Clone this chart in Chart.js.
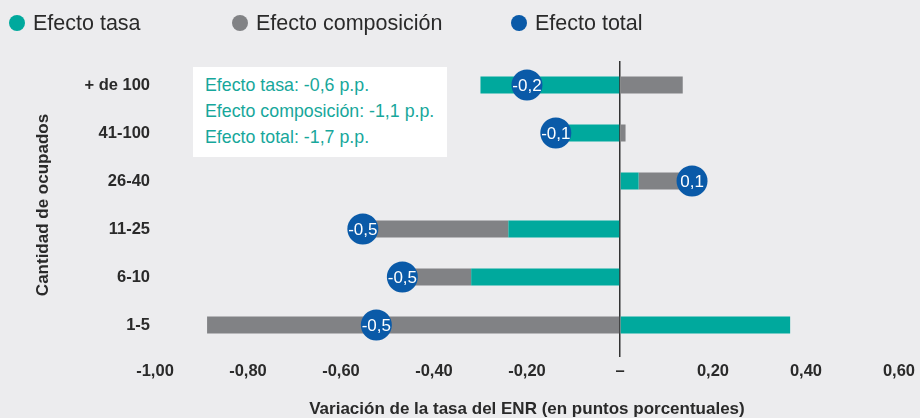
<!DOCTYPE html>
<html>
<head>
<meta charset="utf-8">
<script src="https://cdn.jsdelivr.net/npm/chart.js@4.4.1/dist/chart.umd.min.js"></script>
<style>
  body { margin: 0; background: #ececee; font-family: "Liberation Sans", Arial, sans-serif; }
  #wrap { position: relative; width: 920px; height: 418px; overflow: hidden; }
  #grafico { position: absolute; left: 0; top: 0; }
  .leyenda-item { position: absolute; top: 11px; height: 24px; display: flex; align-items: center; font-size: 21.5px; color: #2a2a2a; white-space: nowrap; }
  .leyenda-item span.dot { width: 16px; height: 16px; border-radius: 50%; margin-right: 8px; }
  #nota { position: absolute; left: 193px; top: 67px; width: 254px; height: 90px; background: #fff;
          box-sizing: border-box; padding: 5px 0 0 12px; color: #17a79b; font-size: 17.8px; line-height: 26px; white-space: nowrap; }
</style>
</head>
<body>
<div id="wrap">
  <canvas id="grafico" width="920" height="418"></canvas>
  <div id="leyenda"></div>
  <div id="nota"></div>
</div>
<script>
const categorias = ['+ de 100', '41-100', '26-40', '11-25', '6-10', '1-5'];
const efectoTasa = [-0.30, -0.11, 0.04, -0.24, -0.32, 0.366];
const efectoComposicion = [0.135, 0.012, 0.10, -0.31, -0.145, -0.888];
const efectoTotal = [-0.20, -0.138, 0.155, -0.553, -0.468, -0.524];
const etiquetasTotal = ['-0,2', '-0,1', '0,1', '-0,5', '-0,5', '-0,5'];
const ticksX = ['-1,00', '-0,80', '-0,60', '-0,40', '-0,20', '–', '0,20', '0,40', '0,60'];
const notaLineas = ['Efecto tasa: -0,6 p.p.', 'Efecto composición: -1,1 p.p.', 'Efecto total: -1,7 p.p.'];

const verde = '#00a99d';
const gris = '#818285';
const azul = '#0a5aa8';
const fuente = '"Liberation Sans", Arial, sans-serif';

// leyenda y recuadro en html
const leyenda = [
  { label: 'Efecto tasa', color: verde, left: 9 },
  { label: 'Efecto composición', color: gris, left: 232 },
  { label: 'Efecto total', color: azul, left: 511 }
];
const divLeyenda = document.getElementById('leyenda');
leyenda.forEach(item => {
  const el = document.createElement('div');
  el.className = 'leyenda-item';
  el.style.left = item.left + 'px';
  el.innerHTML = '<span class="dot" style="background:' + item.color + '"></span>' + item.label;
  divLeyenda.appendChild(el);
});
document.getElementById('nota').innerHTML = notaLineas.map(t => '<div>' + t + '</div>').join('');

// texto dentro de los circulos
const etiquetasPlugin = {
  id: 'etiquetasTotal',
  afterDatasetsDraw(chart) {
    const meta = chart.getDatasetMeta(0);
    const ctx = chart.ctx;
    ctx.save();
    ctx.fillStyle = '#fff';
    ctx.font = '17px ' + fuente;
    ctx.textAlign = 'center';
    ctx.textBaseline = 'middle';
    meta.data.forEach((pt, i) => ctx.fillText(etiquetasTotal[i], pt.x, pt.y + 1));
    ctx.restore();
  }
};

const fuenteEje = { family: fuente, size: 17, weight: 'bold', lineHeight: 1 };

const ctx = document.getElementById('grafico').getContext('2d');
new Chart(ctx, {
  type: 'bar',
  data: {
    labels: categorias,
    datasets: [
      {
        type: 'line',
        label: 'Efecto total',
        data: efectoTotal,
        indexAxis: 'y',
        stack: 'total',
        showLine: false,
        pointRadius: 15.5,
        pointBackgroundColor: azul,
        pointBorderWidth: 0,
        order: 0
      },
      {
        label: 'Efecto tasa',
        data: efectoTasa,
        backgroundColor: verde,
        barPercentage: 0.354,
        categoryPercentage: 1,
        order: 1
      },
      {
        label: 'Efecto composición',
        data: efectoComposicion,
        backgroundColor: gris,
        barPercentage: 0.354,
        categoryPercentage: 1,
        order: 1
      }
    ]
  },
  options: {
    indexAxis: 'y',
    responsive: false,
    animation: false,
    layout: { padding: { left: 35, top: 61, right: 18, bottom: 0 } },
    plugins: {
      legend: { display: false },
      tooltip: { enabled: false }
    },
    scales: {
      x: {
        stacked: true,
        min: -1,
        max: 0.6,
        z: 1,
        border: { display: false },
        grid: {
          color: c => (c.tick && Math.abs(c.tick.value) < 1e-9) ? '#333' : 'rgba(0,0,0,0)',
          lineWidth: 1.5,
          tickLength: 8
        },
        ticks: {
          stepSize: 0.2,
          padding: 5,
          color: '#2a2a2a',
          font: { family: fuente, size: 16.5, weight: 'bold' },
          callback: (v, i) => ticksX[i]
        },
        title: {
          display: true,
          text: 'Variación de la tasa del ENR (en puntos porcentuales)',
          color: '#2a2a2a',
          font: fuenteEje,
          padding: 0
        },
        afterFit: s => { s.height = 69; }
      },
      y: {
        stacked: true,
        border: { display: false },
        grid: { display: false, drawTicks: false },
        ticks: {
          padding: 5,
          color: '#2a2a2a',
          font: { family: fuente, size: 16.5, weight: 'bold' }
        },
        title: {
          display: true,
          text: 'Cantidad de ocupados',
          color: '#2a2a2a',
          font: fuenteEje,
          padding: 0
        },
        afterFit: s => { s.width = 120; }
      }
    }
  },
  plugins: [etiquetasPlugin]
});
</script>
</body>
</html>
